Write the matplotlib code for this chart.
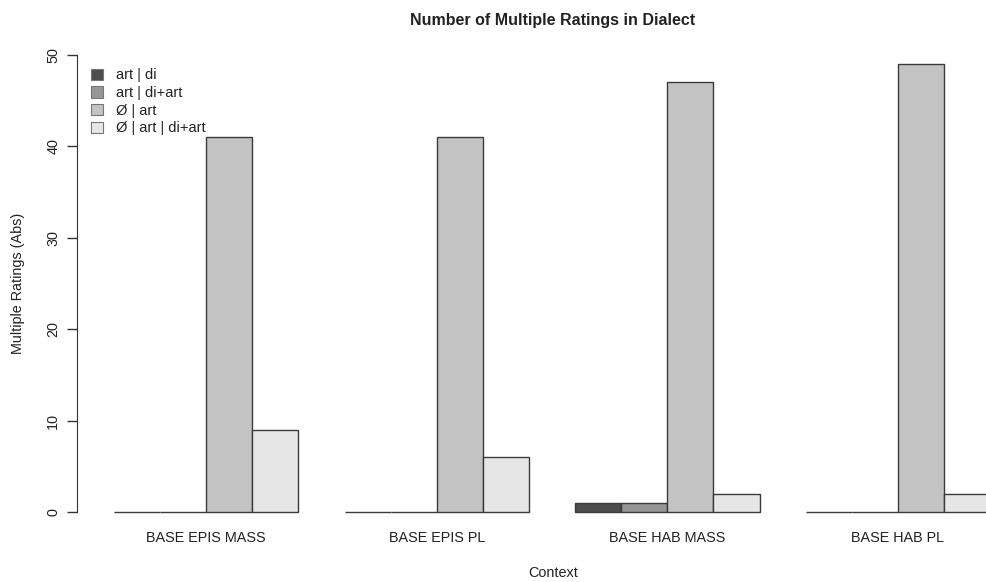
import matplotlib
matplotlib.use("Agg")
import matplotlib.pyplot as plt
from matplotlib.patches import Patch
import numpy as np

plt.rcParams['font.family'] = ['Liberation Sans', 'DejaVu Sans']
plt.rcParams['text.color'] = '#222222'
plt.rcParams['xtick.labelcolor'] = '#222222'
plt.rcParams['ytick.labelcolor'] = '#222222'

contexts = ["BASE EPIS MASS", "BASE EPIS PL", "BASE HAB MASS", "BASE HAB PL"]
series_names = ["art | di", "art | di+art", "Ø | art", "Ø | art | di+art"]
art_di = [0, 0, 1, 0]
art_di_art = [0, 0, 1, 0]
null_art = [41, 41, 47, 49]
null_art_di_art = [9, 6, 2, 2]
series = [art_di, art_di_art, null_art, null_art_di_art]
colors = ["#4D4D4D", "#969696", "#C3C3C3", "#E6E6E6"]
y_ticks = [0, 10, 20, 30, 40, 50]

W, H = 987, 582
fig = plt.figure(figsize=(W / 100, H / 100), dpi=100)
left, right, bottom, top = 77, 987, 530, 37
ax = fig.add_axes([left / W, 1 - bottom / H, (right - left) / W, (bottom - top) / H])

# grouped bars: 4 bars per group, one empty bar-width between groups
n_series = len(series)
for g in range(len(contexts)):
    start = 1 + g * (n_series + 1)
    for s in range(n_series):
        ax.bar(start + s, series[s][g], width=1.0, align="edge",
               color=colors[s], edgecolor="#3a3a3a", linewidth=1.0)

ax.set_xlim(0.2, 19.93)
ax.set_ylim(-1.96, 51.96)

for sp in ["top", "right", "bottom"]:
    ax.spines[sp].set_visible(False)
ax.spines["left"].set_bounds(0, 50)
ax.spines["left"].set_color("#333333")
ax.set_yticks(y_ticks)
ax.set_yticklabels([str(v) for v in y_ticks], rotation=90, va="center", fontsize=10.4)
ax.tick_params(axis="y", length=7, width=1, color="#333333", pad=5)

centers = [1 + g * (n_series + 1) + n_series / 2 for g in range(len(contexts))]
ax.set_xticks(centers)
ax.set_xticklabels(contexts, fontsize=10.4)
ax.tick_params(axis="x", length=0, pad=1)

fig.text(553 / W, 1 - 20 / H, "Number of Multiple Ratings in Dialect",
         ha="center", va="center", fontsize=11.5, fontweight="bold")
fig.text(553 / W, 1 - 573 / H, "Context", ha="center", va="center", fontsize=10.4)
fig.text(18 / W, 1 - 283 / H, "Multiple Ratings (Abs)", ha="center", va="center",
         rotation=90, fontsize=10.4)

handles = [Patch(facecolor=c, edgecolor="#777777", linewidth=0.8) for c in colors]
ax.legend(handles, series_names, loc="upper left", bbox_to_anchor=(0.004, 0.957),
          frameon=False, fontsize=10.5, handlelength=0.82, handleheight=0.82,
          handletextpad=0.9, labelspacing=0.25, borderaxespad=0.3)

fig.savefig("out.png", dpi=100)
